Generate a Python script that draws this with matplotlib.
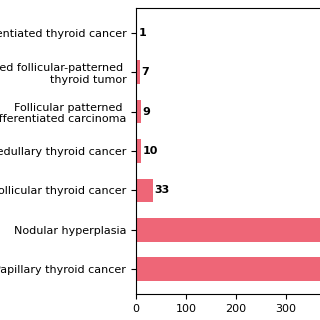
import matplotlib
matplotlib.use("Agg")
from matplotlib import pyplot as plt

# categories, bottom to top
categories = [
    "Papillary thyroid cancer",
    "Nodular hyperplasia",
    "Follicular thyroid cancer",
    "Medullary thyroid cancer",
    "Follicular patterned \npoorly differentiated carcinoma",
    "Encapsulated follicular-patterned \nthyroid tumor",
    "Undifferentiated thyroid cancer",
]
counts = [470, 420, 33, 10, 9, 7, 1]
# only the small bars carry a visible label
labelled = [False, False, True, True, True, True, True]

bar_color = "#EE6677"

fig = plt.figure(figsize=(3.2, 3.2), dpi=100)
# axes runs off the right edge of the figure, like the cropped original
ax = fig.add_axes([136 / 320, 26 / 320, 247 / 320, 286 / 320])

bars = ax.barh(categories, counts, height=0.6, color=bar_color)

for bar, value, show in zip(bars, counts, labelled):
    if show:
        ax.annotate(str(value), (bar.get_width(), bar.get_y() + bar.get_height() / 2),
                    xytext=(1.5, 0), textcoords="offset points",
                    ha="left", va="center", fontsize=8, fontweight="bold")

ax.set_xticks([0, 100, 200, 300, 400])
ax.tick_params(labelsize=8)
ax.spines["right"].set_visible(False)

fig.savefig("out.png", dpi=100)
